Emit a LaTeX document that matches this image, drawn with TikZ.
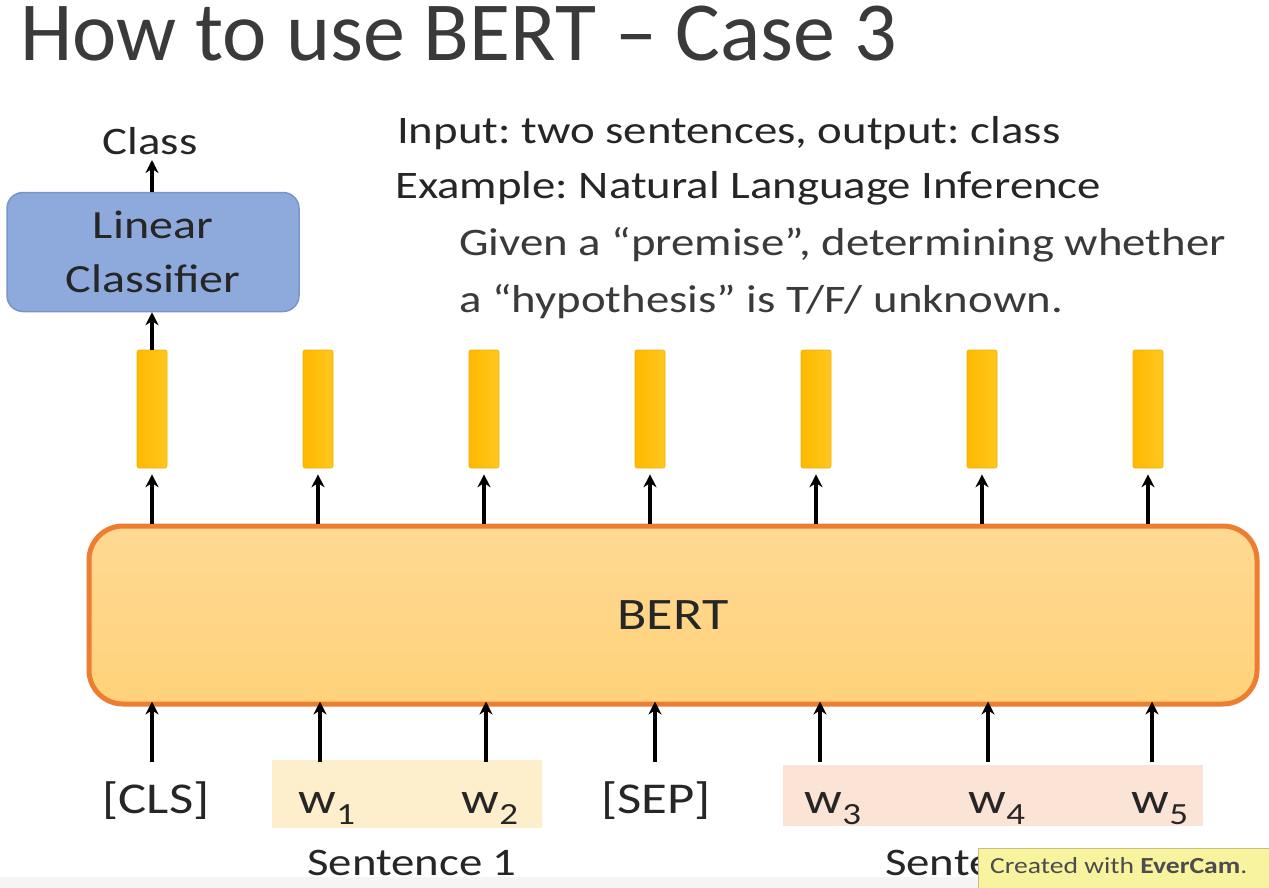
\documentclass[tikz,border=0pt]{standalone}
\usepackage{fontspec}
\setmainfont{Carlito}[FakeStretch=1.2]
\newfontfamily\titlefont{Carlito}
\frenchspacing
\usetikzlibrary{arrows.meta,positioning}
\definecolor{txt}{HTML}{262626}
\definecolor{txtg}{HTML}{3A3A3A}
\definecolor{lcfill}{HTML}{8EA9DB}
\definecolor{lcdraw}{HTML}{7894CC}
\definecolor{barl}{HTML}{FFB800}
\definecolor{barr}{HTML}{FFC81E}
\definecolor{bardraw}{HTML}{F0B000}
\definecolor{bertdraw}{HTML}{ED7D31}
\definecolor{berttop}{HTML}{FFD993}
\definecolor{bertbot}{HTML}{FFD27A}
\definecolor{s1fill}{HTML}{FDEFCB}
\definecolor{s2fill}{HTML}{FBE3D6}
\definecolor{wmfill}{HTML}{F7F39E}
\tikzset{
  arr/.style={line width=3.5pt,-{Stealth[length=13pt,width=13pt]},black},
  barbox/.style={left color=barl,right color=barr,draw=bardraw,line width=0.6pt,rounded corners=2pt,minimum width=30pt,minimum height=118pt,inner sep=0pt},
  tok/.style={font=\fontsize{44}{48}\selectfont,text=txt,inner sep=0pt,anchor=base},
  para/.style={font=\fontsize{39}{44}\selectfont,inner sep=0pt,anchor=base west},
}
\begin{document}
\begin{tikzpicture}[x=1pt,y=-1pt]
\useasboundingbox (0,0) rectangle (1269,888);
\fill[white] (0,0) rectangle (1269,888);
\fill[black!4] (0,877) rectangle (1269,888);
% title
\node[font=\titlefont\fontsize{84}{90}\selectfont,text=txtg,anchor=base west,inner sep=0pt] (title) at (20,61) {How to use BERT – Case 3};
% description
\node[para,text=txt] (d1) at (397,143) {Input: two sentences, output: class};
\node[para,text=txt] (d2) at (395,198) {Example: Natural Language Inference};
\node[para,text=txtg] (d3) at (459,255) {Given a “premise”, determining whether};
\node[para,text=txtg] (d4) at (459,312) {a “hypothesis” is T/F/ unknown.};
% linear classifier
\node[draw=lcdraw,fill=lcfill,line width=1.5pt,rounded corners=16pt,minimum width=292pt,minimum height=119pt,inner sep=0pt,align=center,font=\fontsize{40}{54}\selectfont,text=txt] (lc) at (153,252) {Linear\\Classifier};
\node[font=\fontsize{39}{42}\selectfont,text=txt,inner sep=0pt,anchor=base] (cls) at (150,155) {Class};
\draw[arr] (lc.north -| 152,0) -- (152,160) coordinate (clsbot);
% BERT
\node[draw=bertdraw,line width=5pt,rounded corners=34pt,top color=berttop,bottom color=bertbot,minimum width=1168pt,minimum height=178pt,inner sep=0pt,font=\fontsize{45}{48}\selectfont,text=txt] (bert) at (673,615) {BERT};
% bars
\foreach \i/\x in {1/152,2/318,3/484,4/650,5/816,6/982,7/1148}{
  \node[barbox] (b\i) at (\x,409) {};
  \draw[arr] (bert.north -| b\i) -- ([yshift=-6pt]b\i.south);
}
\draw[arr] (b1.north) -- (lc.south -| b1);
% sentence backgrounds
\fill[s1fill] (272,760) rectangle (542,828);
\fill[s2fill] (783,765) rectangle (1203,826);
% tokens
\node[tok] (t1) at (156,813) {[CLS]};
\node[tok] (t2) at (327,813) {w\textsubscript{1}};
\node[tok] (t3) at (490,813) {w\textsubscript{2}};
\node[tok] (t4) at (656,813) {[SEP]};
\node[tok] (t5) at (833,813) {w\textsubscript{3}};
\node[tok] (t6) at (997,813) {w\textsubscript{4}};
\node[tok] (t7) at (1160,813) {w\textsubscript{5}};
\foreach \i/\x in {1/152,2/320,3/486,4/655,5/820,6/988,7/1152}{
  \coordinate (in\i) at (\x,762);
  \draw[arr] (in\i) -- ([yshift=5pt]bert.south -| in\i);
}
\node[font=\fontsize{39}{42}\selectfont,text=txt,inner sep=0pt,anchor=base] (s1) at (412,875) {Sentence 1};
\node[font=\fontsize{39}{42}\selectfont,text=txt,inner sep=0pt,anchor=base west] (s2) at (885,875) {Sentence 2};
% watermark
\node[fill=wmfill,draw=wmfill!80!black,line width=0.5pt,minimum width=300pt,minimum height=44pt,anchor=north west,inner sep=0pt] (wm) at (978,848) {};
\node[anchor=base west,inner sep=0pt,font=\fontsize{23}{25}\selectfont,text=black!70] (wmt) at (990,873) {Created with \textbf{EverCam}.};
\end{tikzpicture}
\end{document}
